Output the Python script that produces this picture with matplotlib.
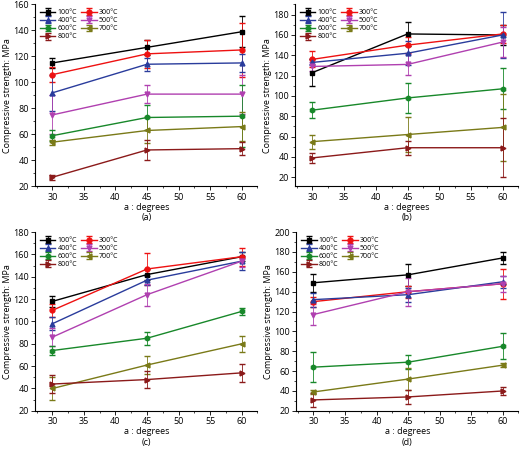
import matplotlib
matplotlib.use('Agg')
import matplotlib.pyplot as plt
from matplotlib.ticker import AutoMinorLocator

plt.rcParams['font.family'] = ['Open Sans', 'DejaVu Sans']
angles = [30, 45, 60]
labels = ['100°C', '300°C', '400°C', '500°C', '600°C', '700°C', '800°C']
colors = ['#000000', '#ee1111', '#2a3c9c', '#b040b0', '#18882a', '#7a7a18', '#8b1a1a']
markers = ['s', 'o', '^', 'v', 'h', '<', '>']

a_vals = [[115,127,139],[106,122,125],[92,114,115],[75,91,91],[59,73,74],[54,63,66],[27,48,49]]
a_err = [[4,6,12],[6,11,21],[14,5,7],[15,7,15],[4,10,24],[2,10,11],[2,8,5]]
b_vals = [[123,161,160],[136,150,161],[133,142,160],[129,131,153],[86,98,107],[55,62,69],[39,49,49]]
b_err = [[13,12,10],[8,8,9],[3,12,23],[4,10,15],[8,15,20],[7,17,33],[5,7,29]]
c_vals = [[118,142,158],[110,147,158],[98,137,154],[86,124,154],[74,85,109],[40,61,80],[44,48,54]]
c_err = [[5,5,4],[6,14,8],[6,4,8],[8,10,5],[4,6,3],[10,8,7],[8,8,8]]
d_vals = [[149,157,174],[130,140,148],[132,137,150],[117,140,148],[64,69,85],[39,52,66],[31,34,40]]
d_err = [[9,11,6],[5,6,15],[7,7,6],[11,14,8],[15,7,13],[2,11,2],[7,7,4]]

panels = [
    (a_vals, a_err, (20,160), range(20,161,20), '(a)', [0.068,0.585,0.427,0.405]),
    (b_vals, b_err, (11,190), range(20,181,20), '(b)', [0.568,0.585,0.429,0.405]),
    (c_vals, c_err, (20,180), range(20,181,20), '(c)', [0.068,0.085,0.427,0.398]),
    (d_vals, d_err, (20,200), range(20,201,20), '(d)', [0.570,0.085,0.427,0.398]),
]
order = [0, 2, 4, 6, 1, 3, 5]

fig = plt.figure(figsize=(5.2,4.49), dpi=100)
for vals, errs, ylim, yt, tag, pos in panels:
    ax = fig.add_axes(pos)
    hs = []
    for v, e, lab, c, m in zip(vals, errs, labels, colors, markers):
        h = ax.errorbar(angles, v, yerr=e, color=c, marker=m, ms=3.5, lw=1, capsize=2,
                        elinewidth=0.6, ecolor=c, label=lab)
        hs.append(h)
    ax.set_xlim(27.3, 62.5)
    ax.set_ylim(*ylim)
    ax.set_xticks(range(30,61,5))
    ax.set_yticks(list(yt))
    ax.xaxis.set_minor_locator(AutoMinorLocator(2))
    ax.yaxis.set_minor_locator(AutoMinorLocator(2))
    ax.spines['top'].set_visible(False)
    ax.spines['right'].set_visible(False)
    ax.tick_params(labelsize=6.5, length=3, width=0.6, pad=1.5)
    ax.tick_params(which='minor', length=1.5, width=0.5)
    ax.set_ylabel('Compressive strength: MPa', fontsize=6.5, labelpad=1)
    ax.set_xlabel('a : degrees\n' + tag, fontsize=6.5, labelpad=1, linespacing=1.2)
    ax.legend([hs[i] for i in order], [labels[i] for i in order], ncol=2, fontsize=5,
              frameon=False, loc='upper left', handlelength=2.2,
              columnspacing=0.6, labelspacing=0.15, borderaxespad=0.3, handletextpad=0.3)
fig.savefig('out.png', dpi=100)
